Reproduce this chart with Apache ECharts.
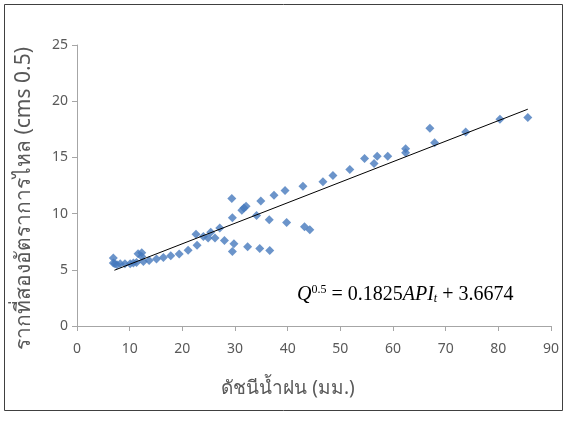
<!DOCTYPE html>
<html>
<head>
<meta charset="utf-8">
<script src="https://cdn.jsdelivr.net/npm/echarts@6/dist/echarts.min.js"></script>
<style>html,body{margin:0;padding:0;background:#fff}#c{width:568px;height:422px}</style>
</head>
<body>
<div id="c"></div>
<script>
// Observed points (API index, sqrt of flow)
const apiValues = [6.9,6.9,7.2,7.6,8.2,9.1,10.1,10.7,11.3,11.6,12.3,12.3,12.6,13.7,15.1,16.4,17.8,19.4,21.1,22.8,
  22.6,24.0,24.9,25.4,26.2,27.1,28.0,29.4,29.5,29.8,29.5,31.3,31.7,32.1,32.4,34.1,34.9,34.7,36.5,36.6,
  37.4,39.5,39.8,42.9,43.2,44.2,46.7,48.6,51.8,54.6,56.4,57.0,59.0,62.4,62.4,67.0,67.9,73.8,80.3,85.6];
const sqrtQValues = [6.04,5.6,5.54,5.45,5.54,5.54,5.54,5.6,5.65,6.43,6.52,6.19,5.74,5.83,5.96,6.1,6.25,6.4,6.74,7.19,
  8.17,7.97,7.83,8.33,7.83,8.72,7.6,11.34,9.62,7.32,6.63,10.29,10.5,10.65,7.05,9.83,11.13,6.9,9.46,6.72,
  11.63,12.05,9.2,12.44,8.84,8.57,12.83,13.39,13.93,14.9,14.46,15.1,15.1,15.78,15.42,17.6,16.3,17.26,18.4,18.54];
// Trend line end points
const trendX = [7.1, 85.6];
const trendY = [4.96, 19.29];
const xTicks = [0,10,20,30,40,50,60,70,80,90];
const yTicks = [0,5,10,15,20,25];
const xTitle = 'ดัชนีน้ำฝน (มม.)';
const yTitle = 'รากที่สองอัตราการไหล (cms 0.5)';

const pts = apiValues.map((x,i)=>[x, sqrtQValues[i]]);
const trend = trendX.map((x,i)=>[x, trendY[i]]);
const font = '"Noto Sans", "DejaVu Sans", sans-serif';
const axisCol = '#A6A6A6';
const labCol = '#595959';

const chart = echarts.init(document.getElementById('c'), null, {renderer:'canvas'});
chart.setOption({
  animation:false,
  backgroundColor:'#fff',
  grid:{left:77, top:45, width:474, height:281, containLabel:false},
  xAxis:{
    type:'value', min:xTicks[0], max:xTicks[xTicks.length-1], interval:10,
    axisLine:{show:true, onZero:false, lineStyle:{color:axisCol, width:1}},
    axisTick:{show:true, length:5, lineStyle:{color:axisCol}},
    splitLine:{show:false},
    axisLabel:{color:labCol, fontSize:14, fontFamily:font, margin:16},
    name:xTitle, nameLocation:'middle', nameGap:53,
    nameTextStyle:{color:labCol, fontSize:19, fontFamily:font, padding:[0,52,0,0]}
  },
  yAxis:{
    type:'value', min:yTicks[0], max:yTicks[yTicks.length-1], interval:5,
    axisLine:{show:true, onZero:false, lineStyle:{color:axisCol, width:1}},
    axisTick:{show:true, length:5, lineStyle:{color:axisCol}},
    splitLine:{show:false},
    axisLabel:{color:labCol, fontSize:14, fontFamily:font, margin:9},
    name:yTitle, nameLocation:'middle', nameGap:42, nameRotate:90,
    nameTextStyle:{color:labCol, fontSize:21, fontFamily:font, padding:[0,26,0,0]}
  },
  series:[
    {type:'scatter', data:pts, symbol:'diamond', symbolSize:9,
     itemStyle:{color:'#4679BD'}, z:3},
    {type:'line', data:trend, symbol:'none', lineStyle:{color:'#000', width:1}, z:4}
  ],
  graphic:[
    {type:'rect', shape:{x:4.5, y:4.5, width:558, height:406}, style:{fill:'none', stroke:'#404040', lineWidth:1}, silent:true},
    {type:'text', left:297, top:284, style:{
      text:'{q|Q}{sup|0.5}{n| = 0.1825}{q|API}{sub|t}{n| + 3.6674}',
      rich:{
        q:{fontFamily:'"Liberation Serif", serif', fontStyle:'italic', fontSize:20, fill:'#000'},
        n:{fontFamily:'"Liberation Serif", serif', fontSize:20, fill:'#000'},
        sup:{fontFamily:'"Liberation Serif", serif', fontSize:12, fill:'#000', padding:[0,0,9,0]},
        sub:{fontFamily:'"Liberation Serif", serif', fontStyle:'italic', fontSize:12, fill:'#000', padding:[9,0,0,0]}
      }
    }}
  ]
});
</script>
</body>
</html>
